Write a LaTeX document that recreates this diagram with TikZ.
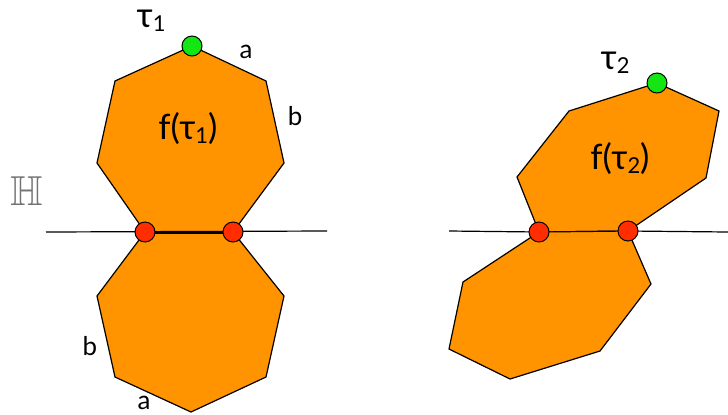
\documentclass[tikz,border=0pt]{standalone}
\usepackage{amssymb}
\usepackage{fontspec}
\setmainfont{Lato}
\definecolor{orng}{RGB}{255,147,0}
\definecolor{grn}{RGB}{20,230,20}
\definecolor{rd}{RGB}{255,45,0}
\newcommand{\lowsub}[1]{\raisebox{-4bp}{\fontsize{22}{22}\selectfont #1}}
\begin{document}
\begin{tikzpicture}[x=1bp,y=-1bp,
  poly/.style={fill=orng, draw=black, line width=1.2bp, line join=miter},
  dot/.style={circle, fill=#1, draw=black, line width=1bp, minimum size=20bp, inner sep=0pt},
  axis/.style={draw=black, line width=1.2bp},
  small/.style={font=\fontsize{26}{26}\selectfont, inner sep=0pt},
  mid/.style={font=\fontsize{35}{35}\selectfont, inner sep=0pt},
  big/.style={font=\fontsize{35}{35}\selectfont, inner sep=0pt}]
\useasboundingbox (0,0) rectangle (728,414);
% ---- left figure ----
\coordinate (LT) at (192,46);
\coordinate (L2) at (266,81);
\coordinate (L3) at (284,163);
\coordinate (LR) at (233,232);
\coordinate (LL) at (145,232);
\coordinate (L6) at (97,163);
\coordinate (L7) at (115,81);
\coordinate (M2) at (284,296);
\coordinate (M3) at (266,377);
\coordinate (M4) at (191,412);
\coordinate (M5) at (115,377);
\coordinate (M6) at (97,296);
\draw[poly] (LT) -- (L2) -- (L3) -- (LR) -- (LL) -- (L6) -- (L7) -- cycle;
\draw[poly] (LL) -- (LR) -- (M2) -- (M3) -- (M4) -- (M5) -- (M6) -- cycle;
\coordinate (HA) at (46,232);
\coordinate (HB) at (327,231);
\draw[axis] (HA) -- (HB);
\draw[draw=black, line width=3bp] (LL) -- (LR);
\node[dot=grn] (g1) at (LT) {};
\node[dot=rd] (r1) at (LL) {};
\node[dot=rd] (r2) at (LR) {};
\node[mid] (t1) at (151,21) {τ\lowsub{1}};
\node[small] (a1) at (246,52) {a};
\node[small] (b1) at (295,116) {b};
\node[big] (f1) at (188,129) {f(τ\lowsub{1})};
\node[inner sep=0pt, text=black!55] (H) at (27,191) {\fontsize{42}{42}\selectfont$\mathbb{H}$};
\node[small] (b2) at (90,346) {b};
\node[small] (a2) at (144,403) {a};
% ---- right figure ----
\coordinate (RT) at (657,83);
\coordinate (R2) at (719,111);
\coordinate (R3) at (706,178);
\coordinate (RR) at (628,231);
\coordinate (RL) at (539,232);
\coordinate (R6) at (517,177);
\coordinate (R7) at (569,111);
\coordinate (S2) at (651,284);
\coordinate (S3) at (600,351);
\coordinate (S4) at (510,379);
\coordinate (S5) at (449,349);
\coordinate (S6) at (463,282);
\draw[poly] (RT) -- (R2) -- (R3) -- (RR) -- (RL) -- (R6) -- (R7) -- cycle;
\draw[poly] (RL) -- (RR) -- (S2) -- (S3) -- (S4) -- (S5) -- (S6) -- cycle;
\coordinate (KA) at (449,231);
\coordinate (KB) at (728,232);
\draw[axis] (KA) -- (RL);
\draw[axis] (RR) -- (KB);
\node[dot=grn] (g2) at (RT) {};
\node[dot=rd] (r3) at (RL) {};
\node[dot=rd] (r4) at (RR) {};
\node[mid] (t2) at (615,63) {τ\lowsub{2}};
\node[big] (f2) at (620,159) {f(τ\lowsub{2})};
\end{tikzpicture}
\end{document}
